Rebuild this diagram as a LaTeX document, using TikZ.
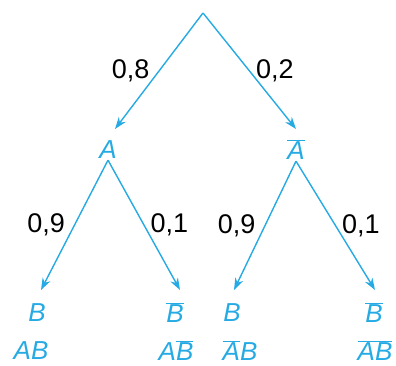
\documentclass[tikz,border=0pt]{standalone}
\usepackage{fontspec}
\setmainfont{Liberation Sans}
\usetikzlibrary{arrows.meta}
\definecolor{treeblue}{RGB}{38,170,228}
\newcommand{\ov}[1]{$\overline{\mbox{#1}}$}
\tikzset{
  ev/.style={text=treeblue,font=\fontsize{26}{28}\selectfont\itshape,inner sep=1pt},
  pr/.style={text=black,font=\fontsize{27}{28}\selectfont,inner sep=3pt},
  br/.style={treeblue,line width=1.4pt,-{Stealth[length=12pt,width=8.5pt]}}
}
\begin{document}
\begin{tikzpicture}[x=1pt,y=-1pt]
\useasboundingbox (0,0) rectangle (396,365);
\coordinate (O) at (203,13);
\node[ev] (A) at (108,150) {A};
\node[ev] (nA) at (296,150) {\ov{A}};
\node[ev] (B1) at (37,313) {B};
\node[ev] (nB1) at (175,313) {\ov{B}};
\node[ev] (B2) at (232,313) {B};
\node[ev] (nB2) at (374,313) {\ov{B}};
\node[ev] (AB) at (31,351) {AB};
\node[ev] (AnB) at (176,351) {A\ov{B}};
\node[ev] (nAB) at (240,351) {\ov{A}B};
\node[ev] (nAnB) at (375,351) {\ov{A}\ov{B}};

\draw[br] (O) -- (115,129) node[pr,midway,left=6pt] {0,8};
\draw[br] (O) -- (296,129) node[pr,midway,right=3pt] {0,2};
\draw[br] (A.south) -- (41,290) node[pr,midway,left=6pt] {0,9};
\draw[br] (A.south) -- (180,290) node[pr,midway,right=3pt] {0,1};
\draw[br] (nA.south) -- (234,290) node[pr,midway,left=6pt] {0,9};
\draw[br] (nA.south) -- (375,290) node[pr,midway,right=3pt] {0,1};
\end{tikzpicture}
\end{document}
